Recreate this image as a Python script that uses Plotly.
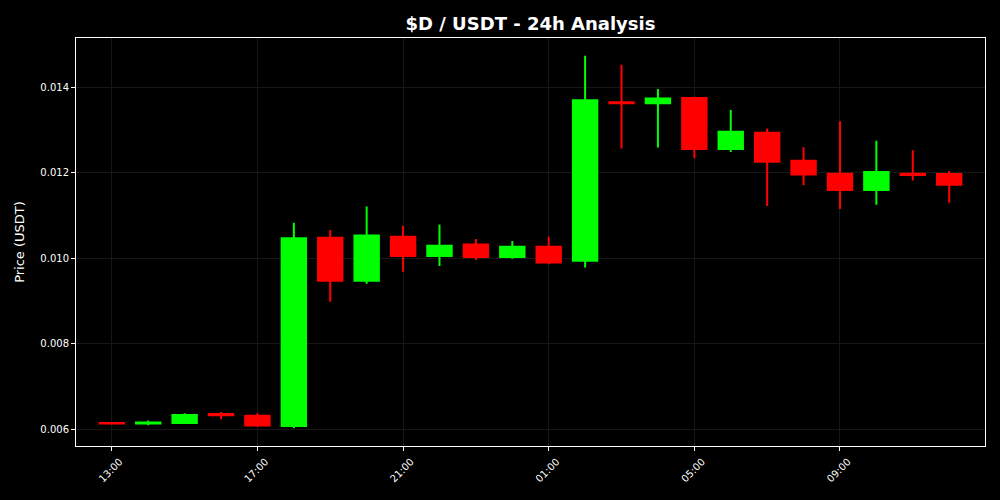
import plotly.graph_objects as go
import pandas as pd

times = pd.date_range("2024-01-01 13:00", periods=24, freq="h")
opens = [0.00614, 0.00613, 0.00614, 0.00635, 0.00631, 0.00607, 0.01048, 0.00947,
         0.01050, 0.01005, 0.01032, 0.01003, 0.01027, 0.00994, 0.01365, 0.01363,
         0.01375, 0.01256, 0.01294, 0.01228, 0.01198, 0.01160, 0.01198, 0.01197]
highs = [0.00616, 0.00620, 0.00637, 0.00640, 0.00637, 0.01083, 0.01066, 0.01121,
         0.01076, 0.01079, 0.01045, 0.01040, 0.01050, 0.01474, 0.01453, 0.01396,
         0.01378, 0.01347, 0.01304, 0.01260, 0.01321, 0.01275, 0.01253, 0.01204]
lows = [0.00610, 0.00609, 0.00612, 0.00623, 0.00605, 0.00602, 0.00898, 0.00940,
        0.00968, 0.00982, 0.00996, 0.00999, 0.00986, 0.00978, 0.01257, 0.01259,
        0.01234, 0.01249, 0.01122, 0.01171, 0.01115, 0.01125, 0.01182, 0.01130]
closes = [0.00613, 0.00615, 0.00633, 0.00632, 0.00608, 0.01047, 0.00947, 0.01053,
          0.01005, 0.01029, 0.01003, 0.01027, 0.00990, 0.01370, 0.01363, 0.01374,
          0.01256, 0.01296, 0.01226, 0.01196, 0.01160, 0.01202, 0.01195, 0.01172]

title_text = "$D / USDT - 24h Analysis"
y_label = "Price (USDT)"
y_ticks = [0.006, 0.008, 0.010, 0.012, 0.014]

fig = go.Figure(go.Candlestick(
    x=times, open=opens, high=highs, low=lows, close=closes,
    increasing=dict(line=dict(color="#00ff00", width=2), fillcolor="#00ff00"),
    decreasing=dict(line=dict(color="#ff0000", width=2), fillcolor="#ff0000"),
    showlegend=False, hoverinfo="x+y",
))

x0 = times[0] - pd.Timedelta(minutes=59)
x1 = times[-1] + pd.Timedelta(minutes=59)

grid_col = "#171717"

fig.update_layout(
    width=1000, height=500,
    paper_bgcolor="#000000", plot_bgcolor="#000000",
    margin=dict(l=76, r=15, t=38, b=54),
    font=dict(family="DejaVu Sans", color="#ffffff", size=10),
    title=dict(text=f"<b>{title_text}</b>", x=0.5305, xanchor="center", y=0.952, yanchor="middle",
               font=dict(size=18, color="#ffffff", family="DejaVu Sans")),
    boxgap=0.33, boxgroupgap=0,
    xaxis=dict(
        range=[x0, x1], rangeslider=dict(visible=False),
        tickformat="%H:%M", dtick=4 * 3600 * 1000, tick0=times[0],
        tickangle=-45, ticks="outside", ticklen=4, tickcolor="#ffffff",
        ticklabelshift=8, ticklabelstandoff=1,
        showline=True, linecolor="#ffffff", linewidth=1, mirror=True,
        showgrid=True, gridcolor=grid_col, gridwidth=1,
        tickfont=dict(size=10, color="#ffffff"), zeroline=False,
    ),
    yaxis=dict(
        range=[0.005602, 0.015157], tickvals=y_ticks, tickformat=".3f",
        ticks="outside", ticklen=4, tickcolor="#ffffff",
        showline=True, linecolor="#ffffff", linewidth=1, mirror=True,
        showgrid=True, gridcolor=grid_col, gridwidth=1,
        tickfont=dict(size=10, color="#ffffff"), zeroline=False,
        title=dict(text=y_label, font=dict(size=13, color="#ffffff"), standoff=12),
    ),
)

fig.write_html(
    "out.html",
    config={"displayModeBar": False},
    post_script="document.body.style.margin='0';document.body.style.background='#000';",
)
